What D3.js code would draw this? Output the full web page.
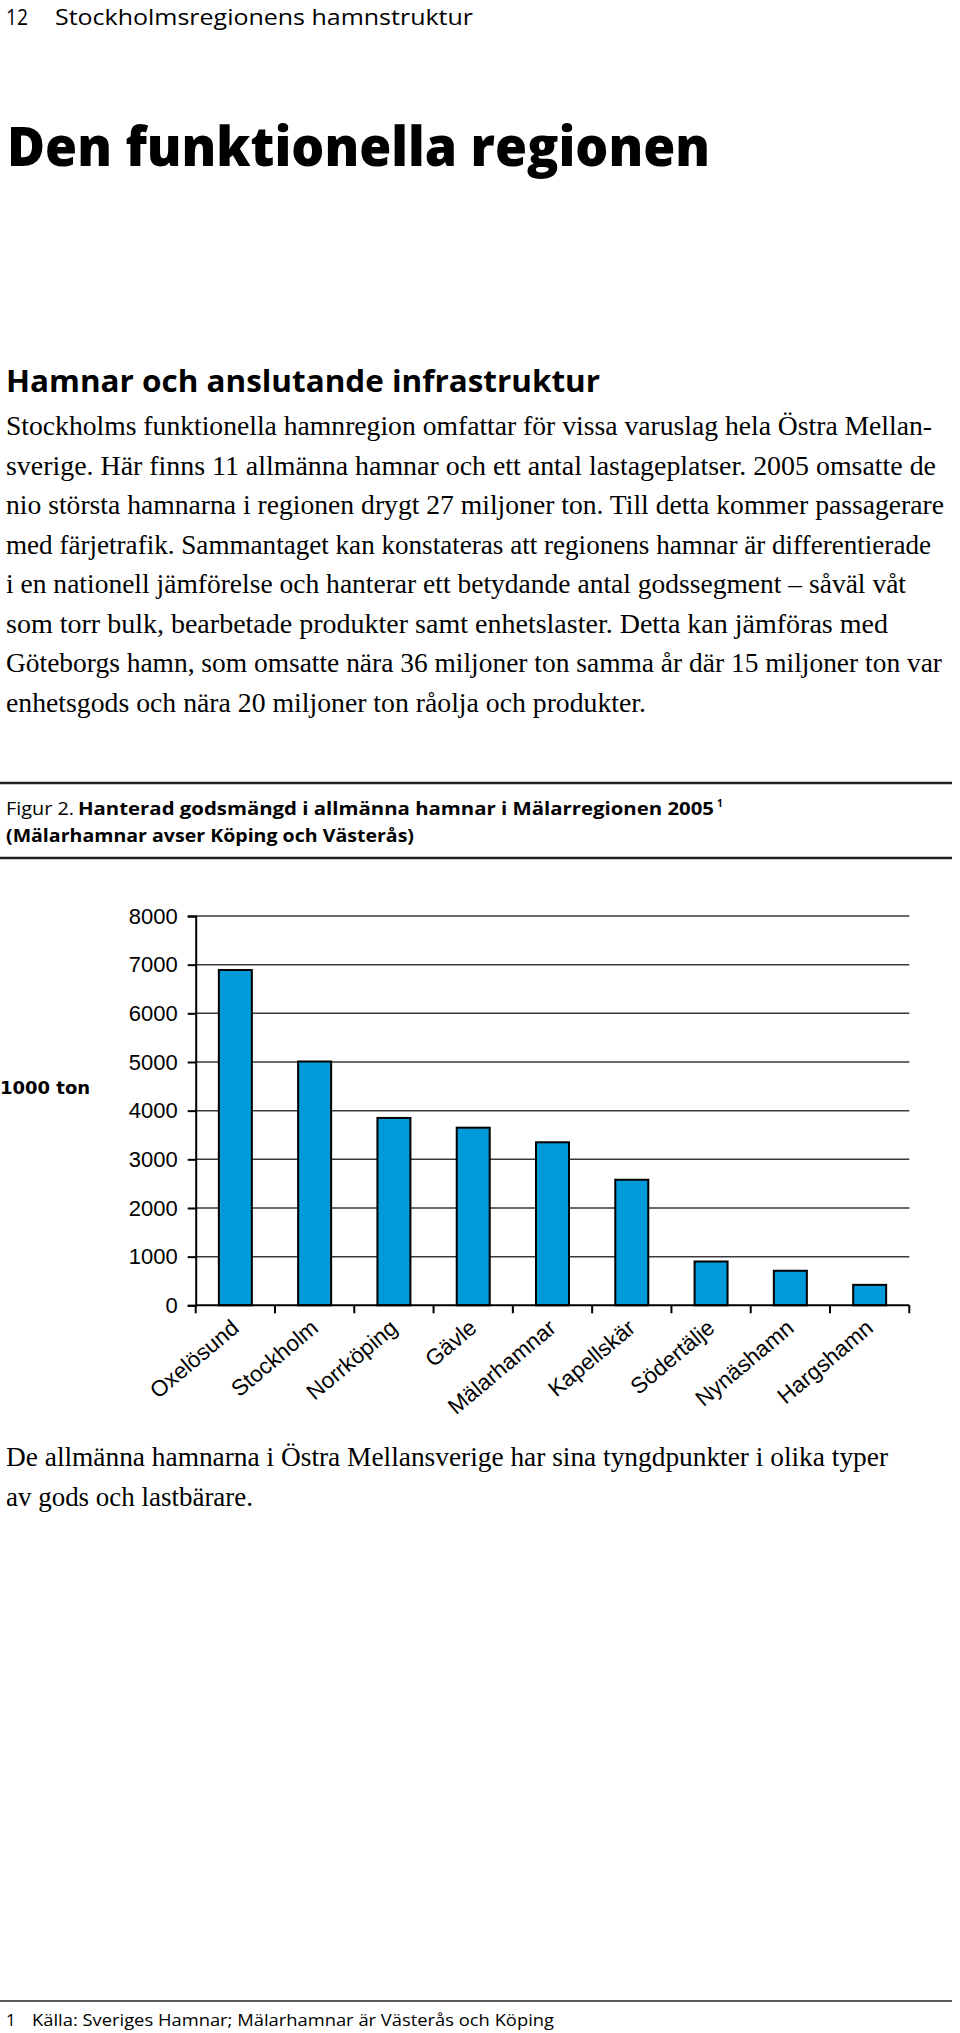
<!DOCTYPE html>
<html>
<head>
<meta charset="utf-8">
<script src="https://cdn.jsdelivr.net/npm/d3@7"></script>
<style>
  html, body { margin: 0; padding: 0; background: #fff; }
  svg { display: block; }
</style>
</head>
<body>
<div id="chart"></div>
<script>
// ---------- data ----------
const categories = ["Oxelösund", "Stockholm", "Norrköping", "Gävle", "Mälarhamnar",
                    "Kapellskär", "Södertälje", "Nynäshamn", "Hargshamn"];
const values = [6890, 5010, 3850, 3650, 3350, 2580, 900, 710, 420];
const yTicks = [0, 1000, 2000, 3000, 4000, 5000, 6000, 7000, 8000];
const yLabel = "1000 ton";

const headerNum = "12";
const headerText = "Stockholmsregionens hamnstruktur";
const titleText = "Den funktionella regionen";
const headingText = "Hamnar och anslutande infrastruktur";
const bodyLines = [
  "Stockholms funktionella hamnregion omfattar för vissa varuslag hela Östra Mellan-",
  "sverige. Här finns 11 allmänna hamnar och ett antal lastageplatser. 2005 omsatte de",
  "nio största hamnarna i regionen drygt 27 miljoner ton. Till detta kommer passagerare",
  "med färjetrafik.  Sammantaget kan konstateras att regionens hamnar är differentierade",
  "i en nationell jämförelse och hanterar ett betydande antal godssegment – såväl våt",
  "som torr bulk, bearbetade produkter samt enhetslaster.  Detta kan jämföras med",
  "Göteborgs hamn, som omsatte nära 36 miljoner ton samma år där 15 miljoner ton var",
  "enhetsgods och nära 20 miljoner ton råolja och produkter."
];
const bodyWidths = [926, 930, 938, 925, 900, 882, 936, 640];
const captionLead = "Figur 2.";
const captionBold1 = "Hanterad godsmängd i allmänna hamnar i Mälarregionen 2005";
const captionSup = "1";
const captionBold2 = "(Mälarhamnar avser Köping och Västerås)";
const afterLines = [
  "De allmänna hamnarna i Östra Mellansverige har sina tyngdpunkter i olika typer",
  "av gods och lastbärare."
];
const afterWidths = [882, 247];
const footNum = "1";
const footText = "Källa: Sveriges Hamnar; Mälarhamnar är Västerås och Köping";

// ---------- page ----------
const W = 960, H = 2033;
const svg = d3.select("#chart").append("svg")
  .attr("width", W).attr("height", H)
  .attr("viewBox", `0 0 ${W} ${H}`);
svg.append("rect").attr("width", W).attr("height", H).attr("fill", "#fff");

const sansUI = "'Open Sans', 'Noto Sans', sans-serif";
const serif = "'Liberation Serif', 'DejaVu Serif', serif";

function txt(x, y, s, opts) {
  const t = svg.append("text").attr("x", x).attr("y", y).text(s)
    .attr("font-family", opts.family || sansUI)
    .attr("font-size", opts.size)
    .attr("font-weight", opts.weight || 400)
    .attr("fill", opts.fill || "#000");
  if (opts.len) t.attr("textLength", opts.len).attr("lengthAdjust", "spacingAndGlyphs");
  return t;
}

// header
txt(6, 25, headerNum, { size: 22, len: 22 });
txt(55, 25, headerText, { size: 22, len: 418 });

// title
txt(7, 166, titleText, { size: 55, weight: 800, len: 703 });

// heading
txt(6, 392, headingText, { size: 30, weight: 700, len: 594 });

// body paragraph
bodyLines.forEach((l, i) => txt(6, 435 + i * 39.5, l, { family: serif, size: 27, len: bodyWidths[i] }));

// caption rules + caption
svg.append("line").attr("x1", 0).attr("x2", 952).attr("y1", 783).attr("y2", 783)
  .attr("stroke", "#222").attr("stroke-width", 2.5);
svg.append("line").attr("x1", 0).attr("x2", 952).attr("y1", 858).attr("y2", 858)
  .attr("stroke", "#222").attr("stroke-width", 2.5);
txt(6, 815, captionLead, { size: 19, len: 68 });
txt(78, 815, captionBold1, { size: 18, weight: 700, len: 636 });
txt(717, 807, captionSup, { size: 10, weight: 700 });
txt(6, 842, captionBold2, { size: 18, weight: 700, len: 408 });

// ---------- chart ----------
const x0 = 195.7, x1 = 909.3, yBase = 1305.3, yTop = 916;
const x = d3.scaleBand().domain(categories).range([x0, x1])
  .paddingInner(0.584).paddingOuter(0.292);
const y = d3.scaleLinear().domain([0, 8000]).range([yBase, yTop]);

const g = svg.append("g");

// gridlines
g.append("g").selectAll("line").data(yTicks.filter(d => d > 0)).join("line")
  .attr("x1", x0).attr("x2", x1)
  .attr("y1", d => y(d)).attr("y2", d => y(d))
  .attr("stroke", "#3a3a3a").attr("stroke-width", 1.5);

// bars
g.append("g").selectAll("rect").data(values).join("rect")
  .attr("x", (d, i) => x(categories[i]))
  .attr("width", x.bandwidth())
  .attr("y", d => y(d))
  .attr("height", d => y(0) - y(d))
  .attr("fill", "#0099da")
  .attr("stroke", "#000").attr("stroke-width", 2);

// y axis
const yAxis = d3.axisLeft(y).tickValues(yTicks).tickSize(8).tickPadding(10).tickFormat(d3.format("d"));
const ya = g.append("g").attr("transform", `translate(${x0},0)`).call(yAxis);
ya.select(".domain").attr("stroke", "#000").attr("stroke-width", 2);
ya.selectAll(".tick line").attr("stroke", "#000").attr("stroke-width", 2);
ya.selectAll(".tick text").attr("font-family", "'Liberation Sans', Arial, sans-serif")
  .attr("font-size", 22).attr("fill", "#000");

// x axis line + ticks at band boundaries
const step = x.step();
const boundaries = d3.range(categories.length + 1).map(i => x0 + i * step);
g.append("line").attr("x1", x0).attr("x2", x1).attr("y1", yBase).attr("y2", yBase)
  .attr("stroke", "#000").attr("stroke-width", 2);
g.append("g").selectAll("line").data(boundaries).join("line")
  .attr("x1", d => d).attr("x2", d => d).attr("y1", yBase).attr("y2", yBase + 8)
  .attr("stroke", "#000").attr("stroke-width", 2);

// category labels
g.append("g").selectAll("text").data(categories).join("text")
  .attr("transform", d => `translate(${x(d) + x.bandwidth() / 2 + 5},${yBase + 25}) rotate(-40)`)
  .attr("text-anchor", "end")
  .attr("font-family", "'Liberation Sans', Arial, sans-serif")
  .attr("font-size", 22.5)
  .attr("fill", "#000")
  .text(d => d);

// y label
txt(0, 1094, yLabel, { family: "'DejaVu Sans', Verdana, sans-serif", size: 18, weight: 700 });

// paragraph after chart
afterLines.forEach((l, i) => txt(6, 1466 + i * 40, l, { family: serif, size: 27, len: afterWidths[i] }));

// footnote
svg.append("line").attr("x1", 0).attr("x2", 952).attr("y1", 2001).attr("y2", 2001)
  .attr("stroke", "#222").attr("stroke-width", 1.5);
txt(6, 2026, footNum, { size: 17 });
txt(32, 2026, footText, { size: 17, len: 522 });
</script>
</body>
</html>
